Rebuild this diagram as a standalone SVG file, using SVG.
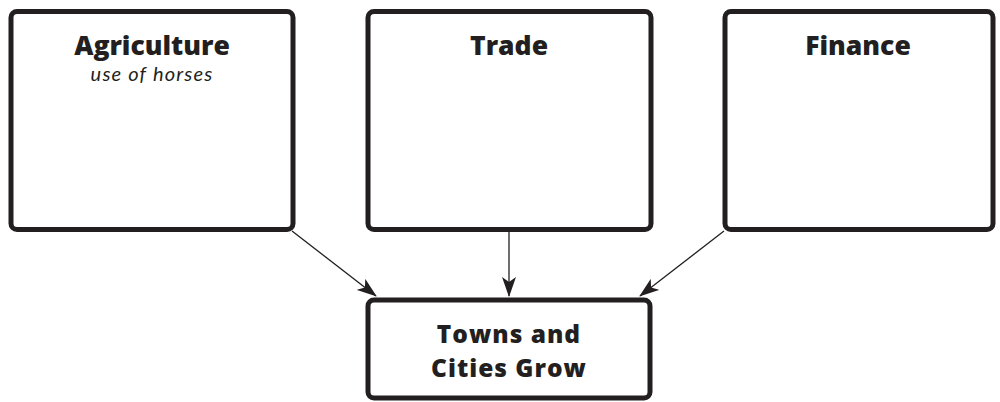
<svg xmlns="http://www.w3.org/2000/svg" width="1000" height="402" viewBox="0 0 1000 402">
<style>
.box{fill:#fff;stroke:#231f20;stroke-width:5}
.title{font-family:"Open Sans","Liberation Sans",sans-serif;font-weight:800;font-size:26.5px;fill:#231f20;text-anchor:middle}
.big{font-size:24.5px;letter-spacing:1px}
.note{font-family:"Lato","Liberation Sans",sans-serif;font-style:italic;font-weight:400;font-size:20px;letter-spacing:1.2px;fill:#231f20;text-anchor:middle}
.conn{stroke:#231f20;stroke-width:1.3;fill:none;marker-end:url(#arr)}
</style>
<defs>
<marker id="arr" viewBox="0 0 20 14" refX="19" refY="7" markerWidth="20" markerHeight="14" markerUnits="userSpaceOnUse" orient="auto">
<path d="M0,0 L20,7 L0,14 L5,7 Z" fill="#231f20"/>
</marker>
</defs>
<rect width="1000" height="402" fill="#fff"/>
<g id="agriculture">
<rect class="box" x="11" y="11.5" width="282" height="218" rx="6"/>
<text class="title" x="152" y="55">Agriculture</text>
<text class="note" x="152" y="81">use of horses</text>
</g>
<g id="trade">
<rect class="box" x="368" y="11.5" width="283" height="218" rx="6"/>
<text class="title" x="509" y="55">Trade</text>
</g>
<g id="finance">
<rect class="box" x="725" y="11.5" width="268" height="218" rx="6"/>
<text class="title" x="858" y="55">Finance</text>
</g>
<g id="towns">
<rect class="box" x="368" y="300" width="282" height="98" rx="6"/>
<text class="title big" x="509" y="343">Towns and</text>
<text class="title big" x="509" y="377">Cities Grow</text>
</g>
<g id="connectors">
<line class="conn" x1="292" y1="231" x2="376" y2="296"/>
<line class="conn" x1="509" y1="232" x2="509" y2="296"/>
<line class="conn" x1="724" y1="231" x2="640" y2="296"/>
</g>
</svg>
